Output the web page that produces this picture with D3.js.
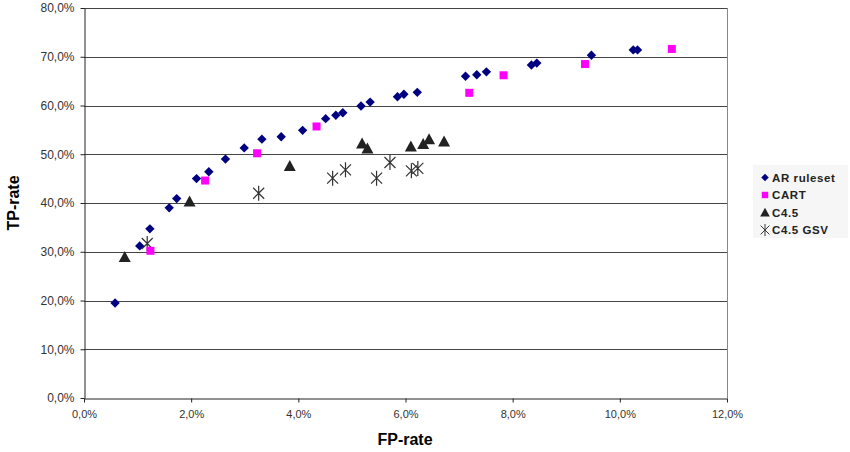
<!DOCTYPE html>
<html lang="en">
<head>
    <meta charset="UTF-8">
    <title>TP-rate vs FP-rate</title>
    <script src="https://d3js.org/d3.v7.min.js"></script>
    <style>
        body { margin: 0; background: white; }
        text { font-family: "Liberation Sans", Arial, sans-serif; }
        .tick text { fill: #333; }
    </style>
</head>
<body>
    <svg id="chart"></svg>
    <script>
        // data, in percent
        var arX = [0.58, 1.04, 1.23, 1.59, 1.73, 2.10, 2.33, 2.64, 2.99, 3.32, 3.68, 4.08, 4.51, 4.70, 4.83, 5.17, 5.34, 5.85, 5.97, 6.22, 7.12, 7.33, 7.51, 8.35, 8.45, 9.47, 10.25, 10.33];
        var arY = [19.5, 31.2, 34.7, 39.0, 40.9, 45.0, 46.4, 49.0, 51.3, 53.1, 53.6, 54.9, 57.3, 58.0, 58.5, 59.9, 60.7, 61.8, 62.3, 62.7, 66.0, 66.3, 66.9, 68.3, 68.7, 70.3, 71.4, 71.4];
        var cartX = [1.24, 2.26, 3.23, 4.34, 7.19, 7.83, 9.35, 10.97];
        var cartY = [30.2, 44.6, 50.2, 55.7, 62.6, 66.2, 68.5, 71.6];
        var c45X = [0.76, 1.97, 3.84, 5.19, 5.29, 6.10, 6.33, 6.44, 6.72];
        var c45Y = [28.9, 40.3, 47.6, 52.2, 51.2, 51.6, 52.1, 53.1, 52.6];
        var gsvX = [1.18, 3.26, 4.64, 4.88, 5.46, 5.71, 6.11, 6.23];
        var gsvY = [31.7, 42.0, 45.1, 46.8, 45.1, 48.3, 46.6, 47.1];
        var xTicks = [0, 2, 4, 6, 8, 10, 12];
        var yTicks = [0, 10, 20, 30, 40, 50, 60, 70, 80];
        var seriesNames = ["AR ruleset", "CART", "C4.5", "C4.5 GSV"];

        var width = 850, height = 452;
        var svg = d3.select("#chart").attr("width", width).attr("height", height);

        var x = d3.scaleLinear().domain([0, 12]).range([84, 727]);
        var y = d3.scaleLinear().domain([0, 80]).range([398, 8]);
        var fmt = function (v) { return v.toFixed(1).replace(".", ",") + "%"; };

        // gridlines
        svg.append("g").selectAll("line")
            .data(yTicks.slice(1))
            .enter().append("line")
            .attr("x1", x(0)).attr("x2", x(12))
            .attr("y1", d => Math.round(y(d)) + 0.5).attr("y2", d => Math.round(y(d)) + 0.5)
            .attr("stroke", "#444").attr("stroke-width", 1);

        // right border of plot
        svg.append("line")
            .attr("x1", Math.round(x(12)) + 0.5).attr("x2", Math.round(x(12)) + 0.5)
            .attr("y1", y(80)).attr("y2", y(0))
            .attr("stroke", "#888");

        var xAxis = svg.append("g")
            .attr("transform", "translate(0," + (Math.round(y(0)) + 0.5) + ")")
            .call(d3.axisBottom(x).tickValues(xTicks).tickFormat(fmt).tickSizeInner(4).tickSizeOuter(0).tickPadding(8));
        xAxis.selectAll("text").attr("font-size", "11px");

        var yAxis = svg.append("g")
            .attr("transform", "translate(" + (Math.round(x(0)) + 0.5) + ",0)")
            .call(d3.axisLeft(y).tickValues(yTicks).tickFormat(fmt).tickSizeInner(4).tickSizeOuter(0).tickPadding(6));
        yAxis.selectAll("text").attr("font-size", "12px");
        svg.selectAll(".domain, .tick line").attr("stroke", "#222");

        // axis titles
        svg.append("text")
            .attr("x", 405).attr("y", 445)
            .attr("text-anchor", "middle")
            .attr("font-size", "16px").attr("font-weight", "bold")
            .text("FP-rate");
        svg.append("text")
            .attr("transform", "translate(19,203) rotate(-90)")
            .attr("text-anchor", "middle")
            .attr("font-size", "16px").attr("font-weight", "bold")
            .text("TP-rate");

        // marker drawing
        var diamond = d3.symbol().type(d3.symbolSquare).size(44);
        function drawMarker(g, kind) {
            if (kind === 0) {
                g.append("path").attr("d", diamond()).attr("transform", "rotate(45)").attr("fill", "#000080");
            } else if (kind === 1) {
                g.append("rect").attr("x", -4).attr("y", -4).attr("width", 8).attr("height", 8).attr("fill", "#ff00ff");
            } else if (kind === 2) {
                g.append("path").attr("d", "M0,-6L6,5L-6,5Z").attr("fill", "#222");
            } else {
                g.append("path").attr("d", "M-5.5,-5.5L5.5,5.5M-5.5,5.5L5.5,-5.5M0,-7.5L0,7.5").attr("stroke", "#333").attr("stroke-width", 1.2).attr("fill", "none");
            }
        }

        var allSeries = [[arX, arY], [cartX, cartY], [c45X, c45Y], [gsvX, gsvY]];
        // draw in reverse so AR ruleset sits on top
        [3, 2, 1, 0].forEach(function (k) {
            var xs = allSeries[k][0], ys = allSeries[k][1];
            xs.forEach(function (v, i) {
                var g = svg.append("g").attr("transform", "translate(" + x(v) + "," + y(ys[i]) + ")");
                drawMarker(g, k);
            });
        });

        // legend
        var legend = svg.append("g");
        legend.append("rect")
            .attr("x", 753).attr("y", 165).attr("width", 95).attr("height", 73)
            .attr("fill", "#f6f6f6");
        seriesNames.forEach(function (name, i) {
            var ly = 177.5 + i * 17.5;
            var g = legend.append("g").attr("transform", "translate(765," + ly + ") scale(0.8)");
            drawMarker(g, i);
            legend.append("text")
                .attr("x", 772).attr("y", ly + 4)
                .attr("font-size", "11.5px").attr("font-weight", "bold")
                .attr("letter-spacing", "0.6px")
                .attr("fill", "#222")
                .text(name);
        });
    </script>
</body>
</html>
